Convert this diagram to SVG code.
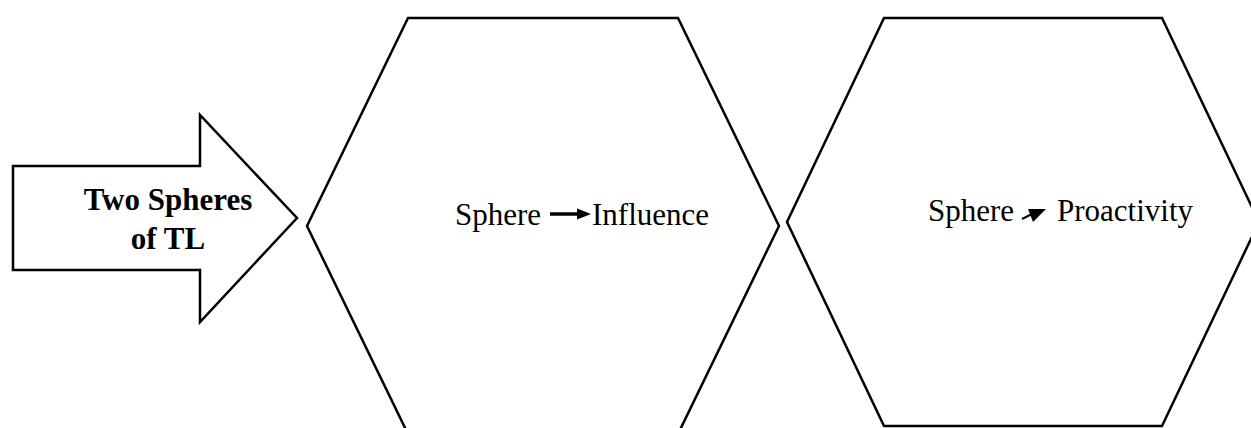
<svg xmlns="http://www.w3.org/2000/svg" width="1251" height="428" viewBox="0 0 1251 428">
<style>
.shape{fill:#fff;stroke:#000;stroke-width:2.5;stroke-linejoin:miter}
text{font-family:'Liberation Serif','Times New Roman','DejaVu Serif',serif;font-size:31px;fill:#000}
.bold{font-weight:bold}
.ln{stroke:#000;fill:none}
.head{fill:#000;stroke:none}
</style>
<rect width="1251" height="428" fill="#fff"/>
<g id="node-arrow">
<polygon class="shape" points="13,166 200,166 200,115 297,218 200,322 200,270 13,270"/>
<text class="bold" x="168" y="210" text-anchor="middle" font-family="Liberation Serif, serif">Two Spheres</text>
<text class="bold" x="168" y="249" text-anchor="middle" font-family="Liberation Serif, serif">of TL</text>
</g>
<g id="node-hex1">
<polygon class="shape" points="408,18 678,18 779,226 678,434 408,434 307,226"/>
<text x="455" y="225" font-family="Liberation Serif, serif">Sphere</text>
<text x="592" y="225" font-family="Liberation Serif, serif">Influence</text>
</g>
<g id="node-hex2">
<polygon class="shape" points="884,18 1162,18 1259,222 1162,426 884,426 787,222"/>
<text x="928" y="221" font-family="Liberation Serif, serif">Sphere</text>
<text x="1057" y="221" font-family="Liberation Serif, serif">Proactivity</text>
</g>
<g id="connectors">
<line class="ln" x1="550" y1="214" x2="580" y2="214" stroke-width="3.5"/>
<polygon class="head" points="577,208.5 591,214 577,219.5"/>
<line class="ln" x1="1022" y1="219" x2="1034" y2="213" stroke-width="2"/>
<polygon class="head" points="1028,209 1046,209 1033,222"/>
</g>
</svg>
